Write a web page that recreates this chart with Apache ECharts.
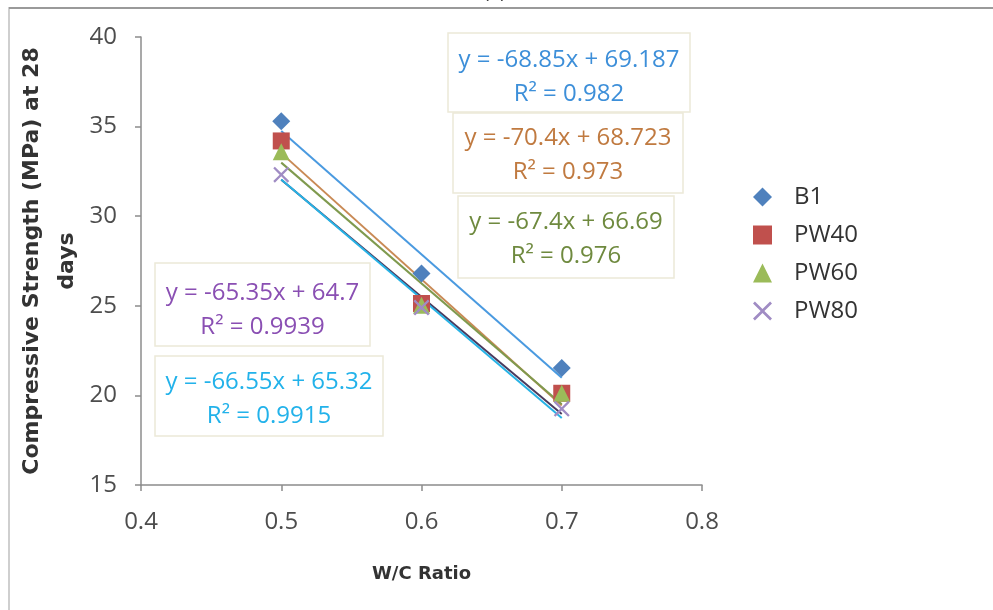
<!DOCTYPE html>
<html><head><meta charset="utf-8">
<script src="https://cdn.jsdelivr.net/npm/echarts@6/dist/echarts.min.js"></script>
<style>html,body{margin:0;padding:0;background:#fff}#c{width:993px;height:610px}</style>
</head><body><div id="c"></div>
<script>
// ---- data ----
const wc = [0.5, 0.6, 0.7];
const seriesNames = ['B1', 'PW40', 'PW60', 'PW80'];
const B1 = [35.30, 26.80, 21.53];
const PW40 = [34.20, 25.13, 20.12];
const PW60 = [33.60, 25.03, 20.12];
const PW80 = [32.32, 24.90, 19.25];
// trendline endpoints at x = 0.5 and 0.7 (from the printed equations)
const trendX = [0.5, 0.7];
const trendB1 = [34.76, 20.99];
const trendPW40 = [33.52, 19.44];
const trendPW60 = [32.99, 19.51];
const trendPW80 = [32.03, 18.96];
const trendExtra = [32.05, 18.74];
const eqTexts = [
  ['y = -68.85x + 69.187', 'R² = 0.982'],
  ['y = -70.4x + 68.723', 'R² = 0.973'],
  ['y = -67.4x + 66.69', 'R² = 0.976'],
  ['y = -65.35x + 64.7', 'R² = 0.9939'],
  ['y = -66.55x + 65.32', 'R² = 0.9915']
];
const xTicks = [0.4, 0.5, 0.6, 0.7, 0.8];
const yTicks = [15, 20, 25, 30, 35, 40];

// ---- styles ----
const FONT = 'Open Sans';
const TITLE_FONT = 'DejaVu Sans';
const markerColors = ['#4f81bd', '#c0504d', '#9bbb59', '#a08cc4'];
const xPath = 'path://M0,1 L1,0 L5,4 L9,0 L10,1 L6,5 L10,9 L9,10 L5,6 L1,10 L0,9 L4,5 Z';
const symbols = ['diamond', 'rect', 'triangle', xPath];
const symbolSizes = [18, 17, 17, 16];
const trendColors = ['#4a9ae0', '#c98a55', '#7f9a4e', '#4a3a5e', '#27b3e6'];
const eqColors = ['#3d8fd9', '#c07a40', '#6f8a3f', '#8a4fb3', '#22b2ea'];
const eqBoxes = [
  {x: 448, y: 33, w: 242, h: 79, ty: 77},
  {x: 453, y: 113, w: 230, h: 80, ty: 155},
  {x: 458, y: 196, w: 216, h: 82, ty: 239},
  {x: 155, y: 263, w: 215, h: 83, ty: 310},
  {x: 155, y: 356, w: 228, h: 80, ty: 399}
];

const pts = [B1, PW40, PW60, PW80];
const trends = [trendB1, trendPW40, trendPW60, trendPW80, trendExtra];

const series = [];
trends.forEach((t, i) => {
  series.push({
    type: 'line', name: 'trend' + i, showSymbol: false, silent: true,
    data: trendX.map((x, k) => [x, t[k]]),
    lineStyle: {color: trendColors[i], width: 2}, z: 2
  });
});
pts.forEach((p, i) => {
  series.push({
    type: 'scatter', name: seriesNames[i],
    data: wc.map((x, k) => [x, p[k]]),
    symbol: symbols[i], symbolSize: symbolSizes[i],
    itemStyle: {color: markerColors[i], opacity: 1}, z: 3 + i
  });
});

const graphics = [
  {type: 'rect', shape: {x: 9, y: 8, width: 1200, height: 800}, style: {fill: 'none', stroke: '#cfcfcf', lineWidth: 2}, silent: true},
  {type: 'line', shape: {x1: 9, y1: 8, x2: 993, y2: 8}, style: {stroke: '#9a9a9a', lineWidth: 2}, silent: true},
  {type: 'text', x: 484, y: -16, style: {text: '(b)', font: '18px "' + FONT + '"', fill: '#333'}, silent: true}
];
eqBoxes.forEach((b, i) => {
  graphics.push({type: 'rect', shape: {x: b.x, y: b.y, width: b.w, height: b.h},
    style: {fill: '#ffffff', stroke: '#ece9d8', lineWidth: 1.5}, z: 10, silent: true});
  graphics.push({type: 'text', x: b.x + b.w / 2, y: b.ty, z: 11, silent: true,
    style: {text: eqTexts[i].join('\n'), fill: eqColors[i], font: '24px "' + FONT + '"',
      align: 'center', verticalAlign: 'middle', lineHeight: 34}});
});

const chart = echarts.init(document.getElementById('c'), null, {renderer: 'canvas'});
chart.setOption({
  animation: false,
  backgroundColor: '#fff',
  textStyle: {fontFamily: FONT},
  grid: {left: 141, right: 291, top: 37, bottom: 125, containLabel: false, outerBoundsMode: 'none'},
  xAxis: {
    type: 'value', min: xTicks[0], max: xTicks[xTicks.length - 1], interval: 0.1,
    name: 'W/C Ratio', nameLocation: 'middle', nameGap: 80,
    nameTextStyle: {fontSize: 18, fontWeight: 'bold', color: '#333', fontFamily: TITLE_FONT},
    axisLine: {lineStyle: {color: '#8c8c8c', width: 1.5}},
    axisTick: {show: true, length: 6, lineStyle: {color: '#8c8c8c', width: 1.5}},
    axisLabel: {fontSize: 24, color: '#4d4d4d', margin: 25, formatter: v => v.toFixed(1)},
    splitLine: {show: false}
  },
  yAxis: {
    type: 'value', min: yTicks[0], max: yTicks[yTicks.length - 1], interval: 5,
    name: 'Compressive Strength (MPa) at 28\ndays', nameLocation: 'middle', nameGap: 56, nameRotate: 90,
    nameMoveOverlap: false,
    nameTextStyle: {fontSize: 22, fontWeight: 'bold', color: '#333', fontFamily: TITLE_FONT, lineHeight: 35, align: 'center'},
    axisLine: {show: true, lineStyle: {color: '#8c8c8c', width: 1.5}},
    axisTick: {show: true, length: 6, lineStyle: {color: '#8c8c8c', width: 1.5}},
    axisLabel: {fontSize: 24, color: '#4d4d4d', margin: 24},
    splitLine: {show: false}
  },
  legend: {
    orient: 'vertical', left: 748, top: 180, itemGap: 14,
    data: seriesNames.map((n, i) => ({name: n, icon: i === 3 ? xPath : symbols[i]})),
    itemWidth: 19, itemHeight: 19,
    textStyle: {fontSize: 24, color: '#333', fontFamily: FONT, padding: [0, 0, 0, 17]}
  },
  graphic: graphics,
  series: series
});
</script></body></html>
